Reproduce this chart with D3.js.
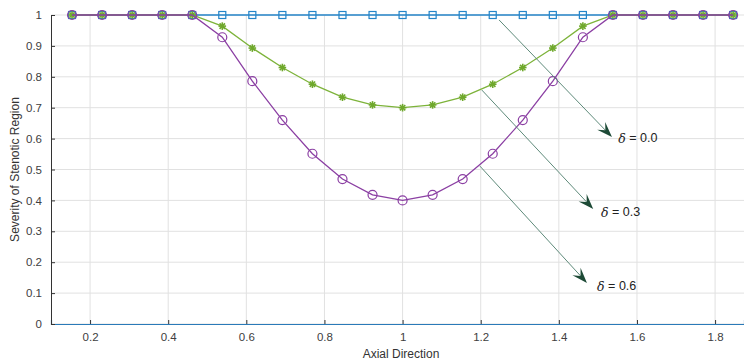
<!DOCTYPE html>
<html><head><meta charset="utf-8">
<script src="https://cdn.jsdelivr.net/npm/d3@7"></script>
<style>body{margin:0;background:#fff}svg{display:block}text{font-family:"Liberation Sans",Arial,sans-serif}</style>
</head><body><svg id="c" width="744" height="361"></svg>
<script>
const xs = [2,3,4,5,6,7,8,9,10,11,12,13,14,15,16,17,18,19,20,21,22,23,24].map(k=>k/13);
const d00 = [1,1,1,1,1,1,1,1,1,1,1,1,1,1,1,1,1,1,1,1,1,1,1];
const d03 = [1,1,1,1,1,0.964,0.893,0.830,0.776,0.734,0.709,0.700,0.709,0.734,0.776,0.830,0.893,0.964,1,1,1,1,1];
const d06 = [1,1,1,1,1,0.928,0.786,0.660,0.551,0.469,0.418,0.400,0.418,0.469,0.551,0.660,0.786,0.928,1,1,1,1,1];
const xTicks = [0.2,0.4,0.6,0.8,1,1.2,1.4,1.6,1.8];
const yTicks = [0,0.1,0.2,0.3,0.4,0.5,0.6,0.7,0.8,0.9,1];
const annos = [
  {label:"0.0", x0:1.247, y0:0.984, x1:1.536, y1:0.605, tx:1.552, ty:0.599},
  {label:"0.3", x0:1.203, y0:0.757, x1:1.488, y1:0.372, tx:1.508, ty:0.359},
  {label:"0.6", x0:1.198, y0:0.511, x1:1.472, y1:0.133, tx:1.498, ty:0.120}
];

const svg = d3.select("#c");
const L=51, R=744, T=15, B=324;
const x = d3.scaleLinear().domain([0.1,1.874]).range([L,R]);
const y = d3.scaleLinear().domain([0,1]).range([B,T]);

// grid
const g = svg.append("g");
g.selectAll(".gx").data(xTicks).join("line").attr("x1",d=>x(d)).attr("x2",d=>x(d)).attr("y1",T).attr("y2",B)
  .attr("stroke","#e1e1e1").attr("stroke-width",1);
g.selectAll(".gy").data(yTicks).join("line").attr("x1",L).attr("x2",R).attr("y1",d=>y(d)).attr("y2",d=>y(d))
  .attr("stroke","#e1e1e1").attr("stroke-width",1);

// axes
const xa = svg.append("g").attr("transform",`translate(0,${B})`)
  .call(d3.axisBottom(x).tickValues(xTicks).tickSize(-4).tickPadding(9).tickFormat(d3.format("~g")));
xa.select(".domain").attr("stroke","#2a7ab8").attr("stroke-width",1.2);
xa.selectAll(".tick line").attr("stroke","#333");
xa.selectAll("text").attr("fill","#404040").attr("font-size",11.5);
const ya = svg.append("g").attr("transform",`translate(${L},0)`)
  .call(d3.axisLeft(y).tickValues(yTicks).tickSize(-4).tickPadding(9).tickFormat(d3.format("~g")));
ya.select(".domain").attr("stroke","#333");
ya.selectAll(".tick line").attr("stroke","#333");
ya.selectAll("text").attr("fill","#404040").attr("font-size",11.5);

svg.append("text").attr("x",401).attr("y",358).attr("text-anchor","middle").attr("font-size",12).attr("fill","#333").text("Axial Direction");
svg.append("text").attr("transform",`translate(19,${(T+B)/2}) rotate(-90)`).attr("text-anchor","middle").attr("font-size",12).attr("fill","#333").text("Severity of Stenotic Region");

const line = d3.line().x(d=>x(d[0])).y(d=>y(d[1]));
function series(vals,color){
  const pts = xs.map((xv,i)=>[xv,vals[i]]);
  svg.append("path").datum(pts).attr("d",line).attr("fill","none").attr("stroke",color).attr("stroke-width",1.3);
  return pts;
}
// blue squares
const pb = series(d00,"#2485c9");
svg.selectAll(".sq").data(pb).join("rect").attr("x",d=>x(d[0])-3.5).attr("y",d=>y(d[1])-3.5).attr("width",7).attr("height",7)
  .attr("fill","none").attr("stroke","#2485c9").attr("stroke-width",1.2);
// green asterisks
const pg = series(d03,"#7db33a");
const ast = svg.append("g");
pg.forEach(d=>{
  const cx=x(d[0]), cy=y(d[1]), r=3.8;
  [0,45,90,135].forEach(a=>{
    const rad=a*Math.PI/180;
    ast.append("line").attr("x1",cx-r*Math.cos(rad)).attr("y1",cy-r*Math.sin(rad)).attr("x2",cx+r*Math.cos(rad)).attr("y2",cy+r*Math.sin(rad))
      .attr("stroke","#6fa82c").attr("stroke-width",1.6);
  });
});
// purple circles
const pp = series(d06,"#8b3fa3");
svg.selectAll(".ci").data(pp).join("circle").attr("cx",d=>x(d[0])).attr("cy",d=>y(d[1])).attr("r",4.5)
  .attr("fill","none").attr("stroke","#8b3fa3").attr("stroke-width",1.2);

// annotations
annos.forEach(a=>{
  const x0=x(a.x0), y0=y(a.y0), x1=x(a.x1), y1=y(a.y1);
  const ang=Math.atan2(y1-y0,x1-x0);
  const len=14, w=5.5, back=4.5;
  const ux=Math.cos(ang), uy=Math.sin(ang), px=-uy, py=ux;
  const bx=x1-ux*len, by=y1-uy*len;
  svg.append("line").attr("x1",x0).attr("y1",y0).attr("x2",x1-ux*len*0.6).attr("y2",y1-uy*len*0.6)
    .attr("stroke","#5e8a7a").attr("stroke-width",1);
  const pts=[[x1,y1],[bx+px*w-ux*1.5,by+py*w-uy*1.5],[x1-ux*(len-back),y1-uy*(len-back)],[bx-px*w-ux*1.5,by-py*w-uy*1.5]];
  svg.append("path").attr("d","M"+pts.map(p=>p.join(",")).join("L")+"Z").attr("fill","#1d4a36");
  const t=svg.append("text").attr("x",x(a.tx)).attr("y",y(a.ty)).attr("dominant-baseline","middle").attr("font-size",12.5).attr("fill","#222");
  t.append("tspan").attr("font-family","'DejaVu Serif',serif").attr("font-style","italic").text("δ");
  t.append("tspan").text(" = "+a.label);
});
</script></body></html>
